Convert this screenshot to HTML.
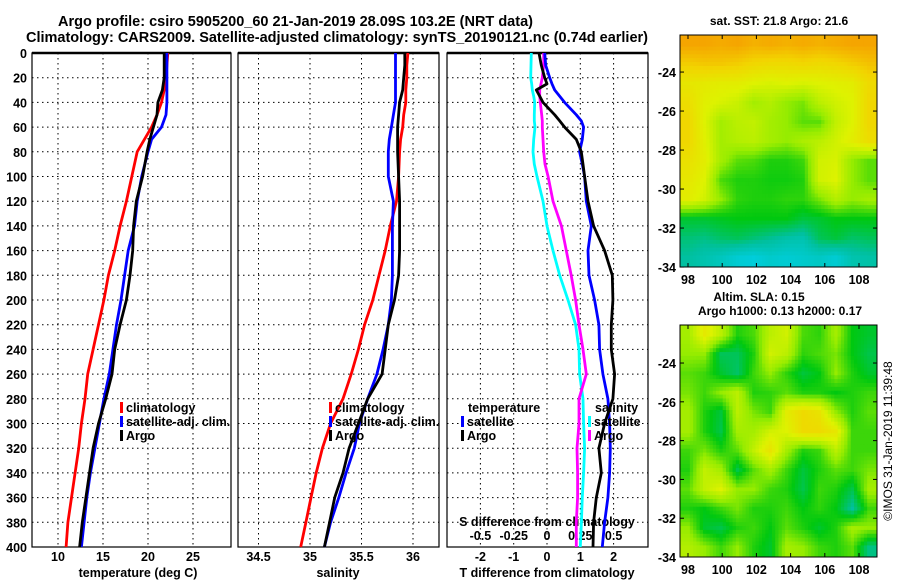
<!DOCTYPE html>
<html><head><meta charset="utf-8">
<style>
html,body{margin:0;padding:0;background:#fff;}
svg{display:block;font-family:"Liberation Sans",Arial,sans-serif;font-weight:bold;}
</style></head>
<body>
<svg id="chart" xmlns="http://www.w3.org/2000/svg" width="900" height="580" viewBox="0 0 900 580">
<rect x="0" y="0" width="900" height="580" fill="#fff"/>
<text x="58" y="26" font-size="14.5" textLength="475" lengthAdjust="spacingAndGlyphs">Argo profile: csiro 5905200_60 21-Jan-2019 28.09S 103.2E (NRT data)</text>
<text x="26" y="42" font-size="14.5" textLength="622" lengthAdjust="spacingAndGlyphs">Climatology: CARS2009. Satellite-adjusted climatology: synTS_20190121.nc (0.74d earlier)</text>
<text x="779" y="25" font-size="12" text-anchor="middle">sat. SST: 21.8 Argo: 21.6</text>
<text x="759" y="301" font-size="12" text-anchor="middle">Altim. SLA: 0.15</text>
<text x="780" y="315" font-size="12" text-anchor="middle">Argo h1000: 0.13 h2000: 0.17</text>
<text transform="translate(892,441) rotate(-90)" font-size="12" font-weight="normal" text-anchor="middle">©IMOS 31-Jan-2019 11:39:48</text>
<g id="layer"></g>
</svg>
<script>
// ---------- data ----------
const depths = [0,10,20,30,40,50,60,70,80,100,120,140,160,180,200,220,240,260,280,300,320,340,360,380,400];
const tempClim = [22.2,22.1,22.0,21.8,21.5,21.0,20.4,19.6,18.8,18.2,17.6,16.9,16.3,15.6,15.1,14.5,13.9,13.3,13.0,12.6,12.3,11.9,11.5,11.1,10.9];
const tempSat  = [22.1,22.1,22.1,22.1,22.1,22.0,21.5,20.4,20.0,19.3,18.8,18.5,17.8,17.4,17.0,16.5,16.1,15.7,15.1,14.6,14.1,13.6,13.2,12.9,12.6];
const tempArgo = [21.8,21.8,21.8,21.6,21.1,21.0,20.6,20.2,19.9,19.4,18.7,18.4,18.3,18.0,17.6,16.9,16.3,16.0,15.3,14.5,13.9,13.5,13.1,12.7,12.4];
const salClim = [35.95,35.94,35.94,35.93,35.93,35.91,35.90,35.88,35.87,35.86,35.84,35.78,35.73,35.67,35.61,35.53,35.47,35.40,35.32,35.20,35.12,35.06,35.01,34.96,34.91];
const salSat  = [35.83,35.83,35.83,35.83,35.83,35.81,35.79,35.77,35.76,35.76,35.81,35.80,35.80,35.80,35.79,35.76,35.71,35.65,35.56,35.48,35.43,35.35,35.28,35.20,35.14];
const salArgo = [35.92,35.92,35.91,35.90,35.87,35.86,35.85,35.85,35.85,35.86,35.87,35.87,35.87,35.86,35.82,35.76,35.73,35.70,35.56,35.47,35.38,35.32,35.24,35.19,35.14];
const diffDepths = [0,10,20,25,30,35,40,50,55,60,70,80,90,100,120,140,160,180,200,220,240,260,280,300,320,340,360,380,400];
const tDiffSat  = [-0.07,-0.04,0.08,0.15,0.23,0.38,0.53,0.88,1.03,1.10,1.06,0.98,1.06,1.13,1.18,1.33,1.23,1.26,1.43,1.56,1.58,1.68,1.83,1.88,1.90,1.88,1.83,1.73,1.66];
const tDiffArgo = [-0.24,-0.17,-0.07,0.0,-0.32,-0.22,-0.12,0.23,0.38,0.53,0.88,1.03,1.08,1.13,1.23,1.40,1.73,1.96,1.98,1.93,1.93,2.03,1.98,1.73,1.56,1.63,1.48,1.40,1.38];
const sDiffSat  = [-0.118,-0.12,-0.122,-0.115,-0.11,-0.1,-0.092,-0.095,-0.095,-0.09,-0.1,-0.105,-0.095,-0.075,-0.03,0.0,0.045,0.095,0.158,0.215,0.24,0.245,0.27,0.275,0.282,0.275,0.265,0.258,0.25];
const sDiffArgo = [-0.025,-0.025,-0.035,-0.045,-0.055,-0.055,-0.05,-0.04,-0.035,-0.035,-0.03,-0.025,-0.015,0.008,0.045,0.108,0.145,0.182,0.215,0.24,0.27,0.295,0.24,0.24,0.225,0.23,0.23,0.22,0.22];
const depthTicks = [0,20,40,60,80,100,120,140,160,180,200,220,240,260,280,300,320,340,360,380,400];
const tempTicks = [10,15,20,25];
const salTicks = [34.5,35,35.5,36];
const tDiffTicks = [-2,-1,0,1,2];
const sDiffTicks = [-0.5,-0.25,0,0.25,0.5];
const sDiffTickLabels = ["-0.5","-0.25","0","0.25","0.5"];
const latTicks = [-24,-26,-28,-30,-32,-34];
const lonTicks = [98,100,102,104,106,108];
const sstGrid = [
[5.8,5.8,5.7,5.8,5.6,5.7,5.6,5.7,5.6,5.7,5.8,5.8],
[5.1,5.2,5.2,5.1,4.9,4.8,4.8,4.9,4.8,4.9,5.1,5.3],
[4.4,4.3,4.2,4.2,4.0,3.9,4.0,3.9,4.0,4.1,4.2,4.8],
[4.7,4.1,3.9,3.7,3.2,3.4,3.0,2.8,3.5,3.8,4.0,4.9],
[4.9,4.0,3.2,3.5,3.6,3.2,3.0,2.6,2.6,3.6,4.0,4.9],
[4.9,4.1,3.2,3.4,3.5,3.2,3.0,3.3,3.5,3.8,4.2,4.7],
[4.6,4.2,3.2,2.6,2.5,2.2,2.2,2.4,3.8,3.9,3.0,2.6],
[4.4,4.0,2.5,2.2,2.2,2.1,2.1,2.2,3.8,4.0,3.0,2.6],
[4.2,3.8,3.0,2.3,2.2,2.2,2.3,2.3,2.8,3.4,3.0,3.2],
[1.8,1.8,1.9,2.0,2.0,2.0,2.0,1.7,1.8,2.0,2.0,2.0],
[1.3,1.2,1.4,1.5,1.3,1.1,0.9,0.8,1.5,1.7,1.4,1.5],
[1.0,0.8,0.6,0.3,0.2,0.4,0.3,0.4,0.5,0.3,0.8,0.9]];
const slaGrid = [
[3.2,4.3,3.5,2.2,2.5,3.5,3.8,2.5,2.3,3.2,2.0,1.8],
[3.0,3.0,1.5,1.5,2.2,3.8,3.5,2.3,2.5,2.8,2.0,1.6],
[2.6,2.4,1.8,1.4,2.4,3.0,2.3,1.7,2.0,3.0,2.2,1.8],
[2.8,2.4,3.0,3.5,2.2,2.3,2.6,2.2,2.2,2.0,2.2,2.4],
[3.2,2.2,1.7,3.5,2.8,2.4,4.2,4.8,4.5,3.0,2.2,2.6],
[3.2,2.2,1.6,3.2,3.2,3.8,4.0,4.8,4.8,4.4,2.4,2.4],
[2.4,2.8,2.2,2.6,3.6,4.5,3.2,2.2,2.4,3.5,2.4,2.4],
[2.2,3.6,3.2,1.6,2.6,3.2,2.4,1.7,2.2,2.6,2.4,2.8],
[2.6,3.6,4.0,3.0,3.0,2.4,2.2,1.6,2.4,2.2,1.6,3.2],
[2.2,2.0,2.4,2.8,2.2,2.2,2.4,2.0,2.3,2.0,1.0,2.4],
[3.0,1.8,1.6,2.2,2.4,2.0,2.6,2.2,1.8,2.2,3.2,3.0],
[3.4,3.0,2.4,3.0,2.2,1.8,3.2,3.0,2.4,2.2,2.6,1.2]];

// ---------- helpers ----------
const NS = "http://www.w3.org/2000/svg";
const layer = document.getElementById('layer');
function mk(tag, attrs, parent){ const e=document.createElementNS(NS,tag); for(const k in attrs) e.setAttribute(k,attrs[k]); (parent||layer).appendChild(e); return e; }
const yTop=53, yBot=547;
function yDepth(d){ return yTop + (d/400)*(yBot-yTop); }
function xTemp(t){ return 103 + (t-15)*9; }
function xSal(s){ return 310 + (s-35)*103; }
function xTD(v){ return 547 + v*33.3; }
function xSD(v){ return 547 + v*133.2; }
const panels = [{x0:32,x1:231},{x0:238,x1:439},{x0:447,x1:648}];

function drawPanel(p, idx, xticks, xf){
  const g = mk('g',{});
  
  
  depthTicks.forEach(d=>{ if(d>0&&d<400){ const l=mk('line',{x1:p.x0,x2:p.x1,y1:yDepth(d),y2:yDepth(d),stroke:'#000','stroke-width':1,'stroke-dasharray':'1.5,3.5'},g);   }});
  xticks.forEach(v=>{ const x=xf(v); const l=mk('line',{x1:x,x2:x,y1:yTop,y2:yBot,stroke:'#000','stroke-width':1,'stroke-dasharray':'1.5,3.5'},g);   });
  const r=mk('rect',{x:p.x0,y:yTop,width:p.x1-p.x0,height:yBot-yTop,fill:'none',stroke:'#000','stroke-width':1.2},g);
   
  mk('line',{x1:p.x0,x2:p.x1,y1:yTop,y2:yTop,stroke:'#000','stroke-width':2.4},g);
  return g;
}
function series(xs, ds, xf, color, name, w){
  const pts = xs.map((v,i)=>xf(v).toFixed(1)+','+yDepth(ds[i]).toFixed(1)).join(' ');
  const pl = mk('polyline',{points:pts,fill:'none',stroke:color,'stroke-width':w||2.8,'stroke-linejoin':'round'});
  
  
}
function txt(x,y,s,size,anchor,name){ const t=mk('text',{x:x,y:y,'font-size':size,'text-anchor':anchor||'start'}); t.textContent=s;   return t; }
function legendEntry(x,y,color,label,name){
  const r=mk('rect',{x:x,y:y-10,width:3,height:11,fill:color});
   
  txt(x+6,y,label,12.5,'start',name);
}

// ---------- panels ----------
drawPanel(panels[0],0,tempTicks,xTemp);
drawPanel(panels[1],1,salTicks,xSal);
drawPanel(panels[2],2,tDiffTicks,xTD);

depthTicks.forEach(d=>txt(27,yDepth(d)+5,String(d),12.5,'end','depth-tick-label'));
tempTicks.forEach(v=>txt(xTemp(v),561,String(v),12.5,'middle','temp-tick-label'));
salTicks.forEach(v=>txt(xSal(v),561,String(v),12.5,'middle','salinity-tick-label'));
tDiffTicks.forEach(v=>txt(xTD(v),561,String(v),12.5,'middle','tdiff-tick-label'));
sDiffTicks.forEach((v,i)=>txt(xSD(v),540,sDiffTickLabels[i],12.5,'middle','sdiff-tick-label'));
txt(138,577,'temperature (deg C)',12.5,'middle','temp-axis-title');
txt(338,577,'salinity',12.5,'middle','salinity-axis-title');
txt(547,577,'T difference from climatology',12.5,'middle','tdiff-axis-title');
txt(547,526,'S difference from climatology',12.5,'middle','sdiff-axis-title');

series(tempClim,depths,xTemp,'#ff0000','temp-climatology-line');
series(tempSat,depths,xTemp,'#0000ff','temp-satellite-line');
series(tempArgo,depths,xTemp,'#000000','temp-argo-line');
series(salClim,depths,xSal,'#ff0000','salinity-climatology-line');
series(salSat,depths,xSal,'#0000ff','salinity-satellite-line');
series(salArgo,depths,xSal,'#000000','salinity-argo-line');
series(sDiffSat,diffDepths,xSD,'#00ffff','sdiff-satellite-line');
series(sDiffArgo,diffDepths,xSD,'#ff00ff','sdiff-argo-line');
series(tDiffSat,diffDepths,xTD,'#0000ff','tdiff-satellite-line');
series(tDiffArgo,diffDepths,xTD,'#000000','tdiff-argo-line');

legendEntry(120,412,'#ff0000','climatology','legend-temp-climatology');
legendEntry(120,426,'#0000ff','satellite-adj. clim.','legend-temp-satellite');
legendEntry(120,440,'#000000','Argo','legend-temp-argo');
legendEntry(329,412,'#ff0000','climatology','legend-sal-climatology');
legendEntry(329,426,'#0000ff','satellite-adj. clim.','legend-sal-satellite');
legendEntry(329,440,'#000000','Argo','legend-sal-argo');
txt(468,412,'temperature',12.5,'start','legend-temperature-header');
legendEntry(461,426,'#0000ff','satellite','legend-tdiff-satellite');
legendEntry(461,440,'#000000','Argo','legend-tdiff-argo');
txt(595,412,'salinity',12.5,'start','legend-salinity-header');
legendEntry(588,426,'#00ffff','satellite','legend-sdiff-satellite');
legendEntry(588,440,'#ff00ff','Argo','legend-sdiff-argo');

// ---------- maps ----------
const stops=[[-1,[32,80,240]],[0,[0,208,232]],[1,[0,192,160]],[2,[0,200,16]],[3,[150,236,0]],[4,[222,242,0]],[5,[242,212,0]],[5.8,[245,165,0]]];
function cmap(v){
  if(v<=stops[0][0]) return 'rgb('+stops[0][1]+')';
  for(let i=1;i<stops.length;i++){ if(v<=stops[i][0]){ const a=stops[i-1],b=stops[i],f=(v-a[0])/(b[0]-a[0]); return 'rgb('+a[1].map((c,k)=>Math.round(c+(b[1][k]-c)*f)).join(',')+')'; } }
  return 'rgb('+stops[stops.length-1][1]+')';
}
function sample(grid,r,c){
  const rows=grid.length, cols=grid[0].length;
  r=Math.max(0,Math.min(rows-1,r)); c=Math.max(0,Math.min(cols-1,c));
  const r0=Math.floor(r), c0=Math.floor(c), r1=Math.min(rows-1,r0+1), c1=Math.min(cols-1,c0+1), fr=r-r0, fc=c-c0;
  const top=grid[r0][c0]*(1-fc)+grid[r0][c1]*fc, bot=grid[r1][c0]*(1-fc)+grid[r1][c1]*fc;
  return top*(1-fr)+bot*fr;
}
function drawMap(grid,x0,x1,y0,y1,latTop,latPx,name){
  const g=mk('g',{});
  
  
  const sub=5, rows=grid.length*sub, cols=grid[0].length*sub, cw=(x1-x0)/cols, rh=(y1-y0)/rows;
  for(let i=0;i<rows;i++) for(let j=0;j<cols;j++){
    const v=sample(grid,(i+0.5)/sub-0.5,(j+0.5)/sub-0.5);
    const c=mk('rect',{x:(x0+j*cw).toFixed(2),y:(y0+i*rh).toFixed(2),width:(cw+0.5).toFixed(2),height:(rh+0.5).toFixed(2),fill:cmap(v)},g);
    
    
  }
  const fr=mk('rect',{x:x0,y:y0,width:x1-x0,height:y1-y0,fill:'none',stroke:'#000','stroke-width':1},g);
   
  const lonX=v=>688+(v-98)*17.1;
  lonTicks.forEach(v=>{ const x=lonX(v); mk('line',{x1:x,x2:x,y1:y1,y2:y1-4,stroke:'#000'},g); mk('line',{x1:x,x2:x,y1:y0,y2:y0+4,stroke:'#000'},g); txt(x,y1+17,String(v),12.5,'middle',name+'-lon-label'); });
  latTicks.forEach(v=>{ const y=y0+(latTop-v)*latPx; mk('line',{x1:x0,x2:x0+4,y1:y,y2:y,stroke:'#000'},g); mk('line',{x1:x1,x2:x1-4,y1:y,y2:y,stroke:'#000'},g); txt(x0-4,y+5,String(v),12.5,'end',name+'-lat-label'); });
}
drawMap(sstGrid,680,877,35,267,-22.1,19.5,'sst-map');
drawMap(slaGrid,680,877,325,557,-22.04,19.4,'sla-map');
</script>
</body></html>
